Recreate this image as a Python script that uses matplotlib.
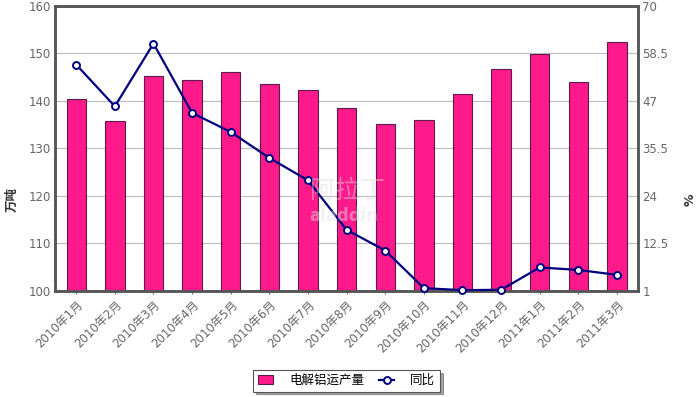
import matplotlib
matplotlib.use("Agg")
import matplotlib.pyplot as plt
import numpy as np

plt.rcParams["font.family"] = ["DejaVu Sans", "Noto Sans CJK SC"]

months = ["2010年1月", "2010年2月", "2010年3月", "2010年4月", "2010年5月",
          "2010年6月", "2010年7月", "2010年8月", "2010年9月", "2010年10月",
          "2010年11月", "2010年12月", "2011年1月", "2011年2月", "2011年3月"]
output = [140.4, 135.7, 145.2, 144.4, 146.0, 143.5, 142.3, 138.5,
          135.1, 135.9, 141.5, 146.7, 149.8, 143.9, 152.4]
yoy = [55.8, 45.7, 60.9, 44.1, 39.5, 33.2, 27.8, 15.8,
       10.8, 1.7, 1.2, 1.3, 6.7, 6.1, 4.9]
left_ticks = [100, 110, 120, 130, 140, 150, 160]
right_ticks = [1, 12.5, 24, 35.5, 47, 58.5, 70]
right_labels = ["1", "12.5", "24", "35.5", "47", "58.5", "70"]

fig = plt.figure(figsize=(6.96, 3.97), dpi=100)
ax = fig.add_axes([0.079, 0.267, 0.838, 0.718])
x = np.arange(len(months))

ax.bar(x, output, width=0.5, color="#ff1a8c", edgecolor="#5a1a4a",
       linewidth=0.8, zorder=2, label="电解铝运产量")
ax.set_ylim(100, 160)
ax.set_xlim(-0.55, len(months) - 0.45)
ax.set_yticks(left_ticks)
ax.yaxis.grid(True, color="#c0c0c0", linewidth=0.9, zorder=0)
ax.set_axisbelow(True)
ax.set_xticks(x)
ax.set_xticklabels(months, rotation=45, ha="right", rotation_mode="anchor",
                   fontsize=8.5, color="#666666")
ax.tick_params(axis="y", length=0, labelsize=8.5, labelcolor="#666666", pad=3)
ax.tick_params(axis="x", length=2, color="#666666", pad=3)
ax.set_ylabel("万吨", fontsize=9, fontweight="bold", color="#333333",
              family=["Noto Sans CJK SC", "DejaVu Sans"])
ax.yaxis.set_label_coords(-0.063, 0.32)

ax2 = ax.twinx()
ax2.plot(x, yoy, color="#000080", linewidth=1.6, marker="o", markersize=5,
         markerfacecolor="white", markeredgecolor="#000080", markeredgewidth=1.4,
         zorder=3, label="同比", clip_on=False)
ax2.set_ylim(1, 70)
ax2.set_yticks(right_ticks)
ax2.set_yticklabels(right_labels)
ax2.tick_params(axis="y", length=0, labelsize=8.5, labelcolor="#666666", pad=3)
ax2.set_ylabel("%", fontsize=9, fontweight="bold", color="#333333")
ax2.yaxis.set_label_coords(1.077, 0.32)

for a in (ax, ax2):
    for s in a.spines.values():
        s.set_color("#555555")
        s.set_linewidth(1.8)

# faint watermark
fig.text(0.445, 0.52, "阿拉丁", fontsize=18, color="#dddddd", alpha=0.45,
         ha="left", va="center", zorder=0, family=["Noto Sans CJK SC"])
fig.text(0.445, 0.455, "aladdin", fontsize=12, color="#e2e2e2", alpha=0.45,
         ha="left", va="center", zorder=0, fontweight="bold")

h1, l1 = ax.get_legend_handles_labels()
h2, l2 = ax2.get_legend_handles_labels()
leg = fig.legend(h1 + h2, l1 + l2, loc="center", bbox_to_anchor=(0.498, 0.041),
                 ncol=2, frameon=True, fancybox=False, shadow=True,
                 handlelength=1.2, handletextpad=1.3, columnspacing=1.2,
                 borderpad=0.35, borderaxespad=0,
                 prop={"family": ["Noto Sans CJK SC", "DejaVu Sans"], "size": 9})
leg.get_frame().set_edgecolor("#555555")
leg.get_frame().set_linewidth(0.8)

fig.savefig("out.png", dpi=100)
